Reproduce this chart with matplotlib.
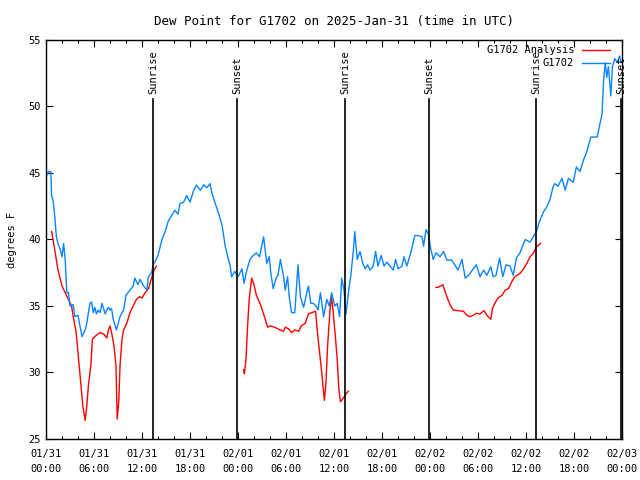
import numpy as np
import matplotlib
matplotlib.use('Agg')
import matplotlib.pyplot as plt
from matplotlib.lines import Line2D

# hours since 2025-01-31 00:00 UTC
g1702_hours = [0.0, 0.3, 0.6, 0.7, 0.9, 1.1, 1.3, 1.5, 1.75, 2.0, 2.2, 2.4, 2.6, 2.8, 3.0, 3.4, 3.6, 4.0, 4.25, 4.5,
               4.9, 5.1, 5.3, 5.5, 5.7, 5.9, 6.1, 6.3, 6.5, 6.75, 7.0, 7.4, 7.6, 7.8, 8.0, 8.2, 8.4, 8.8, 9.25, 9.7,
               10.0, 10.5, 10.9, 11.1, 11.5, 11.75, 12.2, 12.6, 12.8, 13.2, 13.4, 13.6, 14.0, 14.5, 14.9, 15.3, 15.7,
               16.1, 16.5, 16.75, 17.2, 17.6, 18.0, 18.4, 18.8, 19.3, 19.7, 20.1, 20.5, 20.7, 21.1, 21.5, 22.0, 22.4,
               22.8, 23.0, 23.2, 23.6, 24.0, 24.5, 24.75, 25.1, 25.5, 25.9, 26.3, 26.7, 27.2, 27.4, 27.6, 27.9, 28.1,
               28.4, 28.75, 29.0, 29.3, 29.7, 29.9, 30.2, 30.4, 30.7, 31.1, 31.5, 31.8, 32.2, 32.6, 32.8, 33.1, 33.4,
               33.75, 34.0, 34.3, 34.7, 35.1, 35.4, 35.7, 36.1, 36.4, 36.7, 36.96, 37.25, 37.5, 37.8, 38.1, 38.4,
               38.6, 38.9, 39.25, 39.6, 39.9, 40.2, 40.5, 40.9, 41.2, 41.5, 41.9, 42.25, 42.6, 43.0, 43.4, 43.7, 44.0,
               44.5, 44.75, 45.1, 45.5, 45.8, 46.1, 46.5, 47.0, 47.2, 47.5, 47.8, 48.1, 48.4, 48.75, 49.25, 49.7,
               50.1, 50.7, 51.1, 51.5, 52.0, 52.4, 52.8, 53.3, 53.8, 54.25, 54.7, 55.1, 55.6, 55.9, 56.25, 56.7,
               57.1, 57.5, 58.0, 58.4, 58.8, 59.25, 59.9, 60.5, 60.9, 61.3, 61.75, 62.2, 62.6, 63.0, 63.4, 63.6,
               64.0, 64.5, 64.9, 65.3, 65.9, 66.3, 66.75, 67.2, 67.6, 68.1, 68.9, 69.25, 69.5, 69.7, 69.9, 70.1,
               70.3, 70.6, 70.8, 71.1, 71.4, 71.7, 71.9]
g1702_vals = [44.7, 45.1, 45.1, 43.3, 42.9, 41.7, 40.2, 39.7, 39.3, 38.7, 39.7, 38.5, 36.0, 36.0, 35.0, 35.1, 34.2,
              34.3, 33.5, 32.7, 33.2, 33.7, 34.5, 35.2, 35.3, 34.5, 34.9, 34.4, 34.7, 34.5, 35.2, 34.4, 34.7, 34.9,
              34.7, 34.8, 34.0, 33.2, 34.2, 34.7, 35.8, 36.2, 36.5, 37.1, 36.6, 37.0, 36.5, 36.2, 37.2, 37.5, 38.1,
              38.3, 38.8, 40.0, 40.6, 41.4, 41.8, 42.2, 41.9, 42.7, 42.8, 43.3, 42.8, 43.6, 44.1, 43.7, 44.1, 43.9,
              44.2, 43.6, 42.8, 42.1, 41.1, 39.5, 38.5, 38.1, 37.2, 37.6, 37.2, 37.8, 36.7, 37.7, 38.5, 38.8, 39.0,
              38.7, 40.2, 39.2, 38.2, 38.7, 37.5, 36.3, 37.1, 37.3, 38.5, 37.2, 36.2, 37.2, 35.7, 34.5, 34.5, 38.1,
              35.7, 34.9, 36.0, 36.5, 35.2, 35.2, 35.0, 34.7, 36.0, 34.2, 35.5, 35.0, 36.0, 35.0, 35.2, 34.2, 37.1,
              36.2, 34.4, 36.0, 37.3, 39.0, 40.6, 38.5, 39.1, 38.2, 37.8, 38.1, 37.7, 38.0, 39.1, 38.0, 38.8, 38.0,
              38.3, 38.0, 37.7, 38.5, 37.8, 38.0, 38.7, 38.0, 38.8, 39.5, 40.3, 40.3, 40.2, 39.5, 40.75, 40.4, 39.3,
              38.5, 39.0, 38.7, 39.1, 38.45, 38.45, 38.1, 37.7, 38.5, 37.1, 37.3, 37.7, 38.1, 37.2, 37.7, 37.3,
              37.95, 37.2, 37.3, 38.6, 37.2, 38.1, 38.0, 37.3, 38.6, 39.0, 40.0, 39.8, 40.2, 40.6, 41.45, 42.1,
              42.45, 43.0, 44.0, 44.2, 44.0, 44.6, 43.7, 44.6, 44.3, 45.45, 45.1, 46.0, 46.6, 47.7, 47.7, 48.7,
              49.45, 51.95, 53.3, 52.2, 53.0, 50.8, 53.0, 53.6, 53.3, 53.8, 53.3]

# analysis, nan = gap
analysis_hours = [0.7, 1.1, 1.5, 2.0, 2.4, 2.8, 3.2, 3.4, 3.75, 4.0, 4.3, 4.6, 4.9, 5.1, 5.3, 5.6, 5.8, 6.1, 6.7,
                  7.2, 7.6, 7.8, 8.0, 8.2, 8.5, 8.75, 8.9, 9.1, 9.25, 9.5, 9.7, 10.1, 10.5, 10.9, 11.3, 11.7, 12.0,
                  12.4, 12.8, 13.2, 13.5, 13.8, 19.0,
                  24.7, 24.8, 25.0, 25.2, 25.4, 25.7, 26.0, 26.3, 26.75, 27.2, 27.7, 28.0, 28.6, 29.25, 29.7, 29.9,
                  30.3, 30.7, 31.1, 31.6, 31.9, 32.4, 32.8, 33.2, 33.7, 33.9, 34.2, 34.5, 34.7, 34.8, 35.0, 35.2,
                  35.5, 35.7, 35.9, 36.2, 36.4, 36.6, 36.8, 37.2, 37.5, 37.8, 43.0,
                  48.75, 49.0, 49.6, 50.1, 50.5, 50.9, 51.5, 52.2, 52.6, 53.0, 53.4, 53.8, 54.25, 54.75, 55.1, 55.6,
                  55.8, 56.1, 56.5, 57.0, 57.4, 57.8, 58.2, 58.6, 59.25, 59.7, 60.1, 60.5, 60.9, 61.3, 61.8]
analysis_vals = [40.6, 39.2, 37.7, 36.5, 36.0, 35.5, 35.0, 34.2, 33.1, 31.5, 29.5, 27.5, 26.4, 27.5, 29.0, 30.5,
                 32.5, 32.7, 33.0, 32.9, 32.6, 33.2, 33.5, 33.0, 32.0, 30.5, 26.5, 27.8, 30.5, 32.5, 33.2, 33.7,
                 34.5, 35.0, 35.5, 35.7, 35.6, 36.0, 36.3, 37.1, 37.7, 38.0, np.nan,
                 30.2, 29.9, 31.0, 33.5, 35.5, 37.1, 36.6, 35.8, 35.2, 34.4, 33.4, 33.5, 33.4, 33.2, 33.1, 33.4,
                 33.3, 33.0, 33.2, 33.1, 33.5, 33.7, 34.4, 34.5, 34.6, 33.2, 31.5, 29.8, 28.5, 27.9, 29.3, 32.0,
                 34.7, 35.7, 34.5, 32.5, 31.0, 28.8, 27.8, 28.1, 28.4, 28.6, np.nan,
                 36.4, 36.4, 36.6, 35.7, 35.1, 34.7, 34.65, 34.6, 34.3, 34.2, 34.3, 34.45, 34.4, 34.65, 34.3, 34.0,
                 34.8, 35.2, 35.6, 35.8, 36.2, 36.3, 36.8, 37.2, 37.45, 37.8, 38.2, 38.7, 38.95, 39.45, 39.7]

sun_hours = [13.375, 23.875, 37.375, 47.875, 61.25, 71.875]
sun_names = ['Sunrise', 'Sunset', 'Sunrise', 'Sunset', 'Sunrise', 'Sunset']

tick_hours = list(range(0, 73, 6))
tick_labels = ['01/31\n00:00', '01/31\n06:00', '01/31\n12:00', '01/31\n18:00',
               '02/01\n00:00', '02/01\n06:00', '02/01\n12:00', '02/01\n18:00',
               '02/02\n00:00', '02/02\n06:00', '02/02\n12:00', '02/02\n18:00', '02/03\n00:00']

plt.rcParams['font.family'] = 'DejaVu Sans Mono'
plt.rcParams['font.size'] = 7.5

fig = plt.figure(figsize=(6.4, 4.8), dpi=100)
ax = fig.add_axes([46 / 640, 1 - 439 / 480, 576 / 640, 399 / 480])

ax.plot(analysis_hours, analysis_vals, color='#ff0000', lw=1.0)
ax.plot(g1702_hours, g1702_vals, color='#0a84ff', lw=1.0)

for h, name in zip(sun_hours, sun_names):
    ax.plot([h, h], [25, 50.6], color='black', lw=1.2, clip_on=False)
    ax.text(h, 50.95, name, rotation=90, ha='center', va='bottom', clip_on=False)

ax.set_xlim(0, 72)
ax.set_ylim(25, 55)
ax.set_xticks(tick_hours)
ax.set_xticklabels(tick_labels)
for lbl in ax.get_xticklabels():
    lbl.set_linespacing(1.6)
ax.set_xticks(np.arange(0, 73, 2), minor=True)
ax.set_yticks(range(25, 56, 5))
ax.tick_params(which='both', direction='in', top=True, right=True, width=0.8)
ax.tick_params(which='major', length=5, pad=4)
ax.tick_params(axis='x', which='major', pad=7)
ax.tick_params(which='minor', length=2.5)
for s in ax.spines.values():
    s.set_linewidth(1.0)

ax.set_ylabel('degrees F', labelpad=8)
ax.set_title('Dew Point for G1702 on 2025-Jan-31 (time in UTC)', pad=11)

# legend, gnuplot style (text right-justified)
ax.text(0.9167, 0.975, 'G1702 Analysis', transform=ax.transAxes, ha='right', va='center')
ax.add_line(Line2D([0.9306, 0.9792], [0.975, 0.975], transform=ax.transAxes, color='#ff0000', lw=1.0))
ax.text(0.9167, 0.942, 'G1702', transform=ax.transAxes, ha='right', va='center')
ax.add_line(Line2D([0.9306, 0.9792], [0.942, 0.942], transform=ax.transAxes, color='#0a84ff', lw=1.0))

fig.savefig('out.png', dpi=100)
